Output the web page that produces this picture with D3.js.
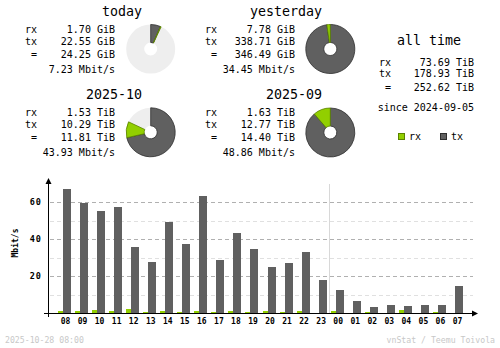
<!DOCTYPE html>
<html>
<head>
<meta charset="utf-8">
<script src="https://cdn.jsdelivr.net/npm/d3@7"></script>
<style>
  html, body { margin: 0; padding: 0; background: #fff; }
  svg { display: block; }
  text { font-family: "DejaVu Sans Mono", "Liberation Mono", monospace; fill: #000; }
</style>
</head>
<body>
<svg id="chart" width="500" height="348"></svg>
<script>
// ---- summary data ----
const periods   = ["today", "yesterday", "2025-10", "2025-09"];
const rxValues  = [1.70, 7.78, 1.53, 1.63];
const txValues  = [22.55, 338.71, 10.29, 12.77];
const sumValues = [24.25, 346.49, 11.81, 14.40];
const units     = ["GiB", "GiB", "TiB", "TiB"];
const rates     = ["7.23 Mbit/s", "34.45 Mbit/s", "43.93 Mbit/s", "48.86 Mbit/s"];
// each pie is scaled against the previous period of the same kind
const compareWith = [1, 1, 3, 3];

const allTimeRx = "73.69 TiB";
const allTimeTx = "178.93 TiB";
const allTimeSum = "252.62 TiB";
const allTimeSince = "since 2024-09-05";

// ---- hourly data (Mbit/s) ----
const hours  = ["08","09","10","11","12","13","14","15","16","17","18","19",
                "20","21","22","23","00","01","02","03","04","05","06","07"];
const rxRate = [1.2, 1.2, 1.8, 1.2, 2.3, 0.6, 1.2, 0.7, 1.2, 0.6, 1.2, 0.6,
                1.2, 0.6, 1.2, 0.1, 1.2, 0.1, 0.6, 0.1, 1.8, 0.1, 0.6, 0.1];
const txRate = [67.2, 59.6, 55.3, 57.5, 35.8, 27.7, 49.0, 37.5, 63.4, 28.8, 43.4, 34.8,
                25.0, 27.2, 33.1, 18.0, 12.6, 6.6, 3.0, 4.5, 3.9, 4.5, 4.5, 14.8];
const majorTicks = [20, 40, 60];
const minorTicks = [10, 30, 50];
const dayBreak = "00";

const timestamp = "2025-10-28 08:00";
const credit = "vnStat / Teemu Toivola";

const C = {
  rx: "#92cf00", rxEdge: "#5b8200",
  tx: "#606060", txEdge: "#2e2e2e",
  pieBg: "#eeeeee",
  major: "#b0b0b0", minor: "#e0e0e0",
  faint: "#c8c8c8"
};

const svg = d3.select("#chart");

// ---- summary blocks ----
const blocks = [
  { title: 162 - 20, top: 16, left: 25, valueEnd: 115, cx: 150.7, cy: 49 },
  { title: 322, top: 16, left: 205, valueEnd: 295, cx: 330.3, cy: 49 },
  { title: 142, top: 99, left: 25, valueEnd: 115, cx: 150.7, cy: 132.3 },
  { title: 322, top: 99, left: 205, valueEnd: 295, cx: 330.3, cy: 132.5 }
];

const arc = d3.arc().innerRadius(6.5).outerRadius(24.5);

periods.forEach((p, i) => {
  const b = blocks[i];
  const g = svg.append("g");
  g.append("text").attr("x", b.title).attr("y", b.top)
    .attr("text-anchor", "end").style("font-size", "13.3px").text(p);

  const rowsY = [b.top + 17, b.top + 29.3, b.top + 42, b.top + 56.7];
  const labels = ["rx", "tx", "="];
  const vals = [rxValues[i], txValues[i], sumValues[i]];
  labels.forEach((l, k) => {
    g.append("text").attr("x", b.left + 12).attr("y", rowsY[k])
      .attr("text-anchor", "end").style("font-size", "10px").text(l);
    g.append("text").attr("x", b.valueEnd).attr("y", rowsY[k])
      .attr("text-anchor", "end").style("font-size", "10px")
      .text(vals[k].toFixed(2) + " " + units[i]);
  });
  g.append("text").attr("x", b.valueEnd).attr("y", rowsY[3])
    .attr("text-anchor", "end").style("font-size", "10px").text(rates[i]);

  // pie: share of this period against its comparison period
  const ref = Math.max(sumValues[i], sumValues[compareWith[i]]);
  const full = 2 * Math.PI;
  const aTx = full * txValues[i] / ref;
  const aAll = full * sumValues[i] / ref;
  const pg = g.append("g").attr("transform", `translate(${b.cx},${b.cy})`);
  pg.append("path").attr("d", arc({ startAngle: 0, endAngle: full }))
    .attr("fill", C.pieBg);
  pg.append("path").attr("d", arc({ startAngle: 0, endAngle: aTx }))
    .attr("fill", C.tx).attr("stroke", C.txEdge).attr("stroke-width", 0.8);
  pg.append("path").attr("d", arc({ startAngle: aTx, endAngle: aAll }))
    .attr("fill", C.rx).attr("stroke", C.rxEdge).attr("stroke-width", 0.8);
});

// ---- all time block ----
const at = svg.append("g");
at.append("text").attr("x", 429).attr("y", 45).attr("text-anchor", "middle")
  .style("font-size", "13.3px").text("all time");
[["rx", allTimeRx, 65.7], ["tx", allTimeTx, 76.7], ["=", allTimeSum, 91]].forEach(r => {
  at.append("text").attr("x", 391).attr("y", r[2]).attr("text-anchor", "end")
    .style("font-size", "10px").text(r[0]);
  at.append("text").attr("x", 474).attr("y", r[2]).attr("text-anchor", "end")
    .style("font-size", "10px").text(r[1]);
});
at.append("text").attr("x", 474).attr("y", 111).attr("text-anchor", "end")
  .style("font-size", "10px").text(allTimeSince);

// legend
[["rx", C.rx, C.rxEdge, 398.5], ["tx", C.tx, C.txEdge, 440.5]].forEach(l => {
  at.append("rect").attr("x", l[3]).attr("y", 133.5).attr("width", 6).attr("height", 6)
    .attr("fill", l[1]).attr("stroke", l[2]).attr("stroke-width", 1);
  at.append("text").attr("x", l[3] + 10.5).attr("y", 140)
    .style("font-size", "10px").text(l[0]);
});

// ---- hourly bar chart ----
const x = d3.scaleBand().domain(hours).range([57, 466]).padding(0);
const y = d3.scaleLinear().domain([0, 70]).range([313, 183.5]);
const axisX = 48.5, axisY = 313.5;
const chart = svg.append("g").attr("shape-rendering", "crispEdges");

// grid
minorTicks.forEach(t => {
  chart.append("line").attr("x1", 50).attr("x2", 473)
    .attr("y1", Math.round(y(t)) + 0.5).attr("y2", Math.round(y(t)) + 0.5)
    .attr("stroke", C.minor).attr("stroke-dasharray", "4,3");
});
majorTicks.forEach(t => {
  chart.append("line").attr("x1", 50).attr("x2", 473)
    .attr("y1", Math.round(y(t)) + 0.5).attr("y2", Math.round(y(t)) + 0.5)
    .attr("stroke", C.major).attr("stroke-dasharray", "4,3");
});

// day boundary
const bx = Math.round(x(dayBreak) - 0.5 * (x.step() - x.bandwidth()) - 0.5) + 0.5;
chart.append("line").attr("x1", bx).attr("x2", bx)
  .attr("y1", y(70)).attr("y2", axisY)
  .attr("stroke", "#d8d8d8");

// bars
hours.forEach((h, i) => {
  const x0 = x(h);
  chart.append("rect").attr("x", x0 + 1).attr("width", 5)
    .attr("y", y(rxRate[i])).attr("height", y(0) - y(rxRate[i]))
    .attr("fill", C.rx);
  chart.append("rect").attr("x", x0 + 6).attr("width", 8)
    .attr("y", y(txRate[i])).attr("height", y(0) - y(txRate[i]))
    .attr("fill", C.tx);
});

// axes
chart.append("line").attr("x1", axisX).attr("x2", axisX)
  .attr("y1", 181).attr("y2", 317).attr("stroke", "#000");
chart.append("line").attr("x1", 44).attr("x2", 474)
  .attr("y1", axisY).attr("y2", axisY).attr("stroke", "#000");
svg.append("path").attr("d", `M${axisX},178 L${axisX - 3},184 L${axisX + 3},184 Z`).attr("fill", "#000");
svg.append("path").attr("d", `M478,${axisY} L472,${axisY - 3} L472,${axisY + 3} Z`).attr("fill", "#000");

// tick labels
majorTicks.forEach(t => {
  svg.append("text").attr("x", 42).attr("y", y(t) + 3).attr("text-anchor", "end")
    .style("font-size", "8.5px").style("font-weight", "bold")
    .style("letter-spacing", "1px").text(t);
});
hours.forEach(h => {
  svg.append("text").attr("x", x(h) + x.bandwidth() / 2).attr("y", 324)
    .attr("text-anchor", "middle").style("font-size", "8px").style("font-weight", "bold")
    .text(h);
});
svg.append("text").attr("transform", "translate(17.5,243) rotate(-90)")
  .attr("text-anchor", "middle").style("font-size", "8px").style("font-weight", "bold")
  .text("Mbit/s");

// footer
svg.append("text").attr("x", 5).attr("y", 342.5).style("font-size", "8.2px")
  .style("fill", C.faint).text(timestamp);
svg.append("text").attr("x", 495).attr("y", 342.5).attr("text-anchor", "end")
  .style("font-size", "8.2px").style("fill", C.faint).text(credit);
</script>
</body>
</html>
